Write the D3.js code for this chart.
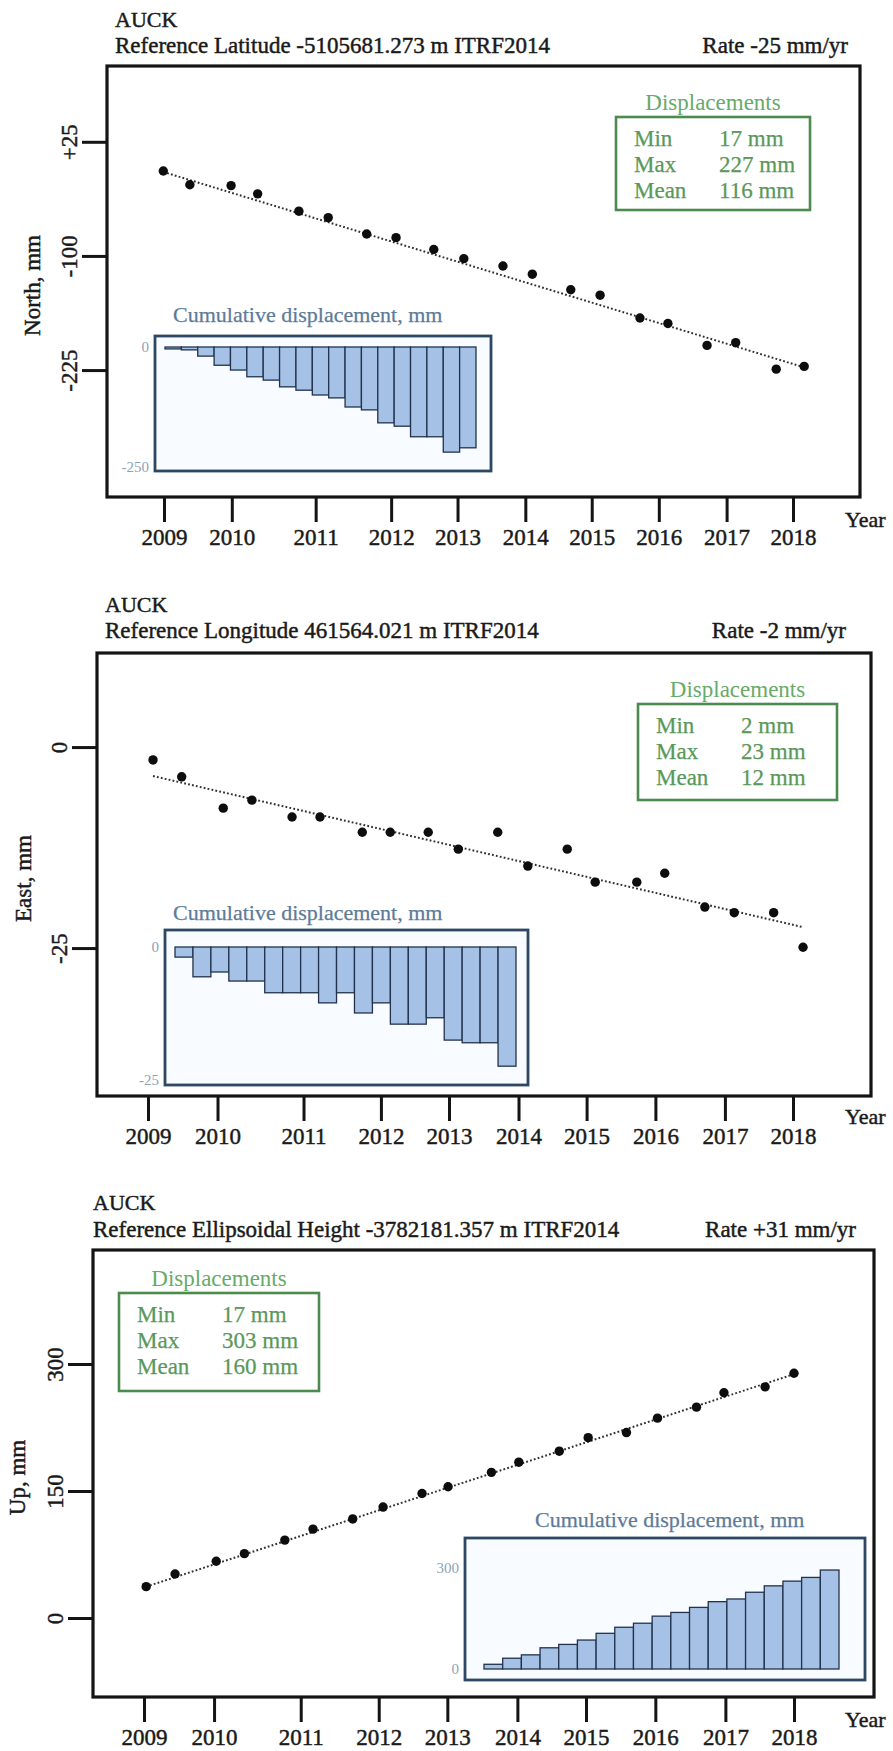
<!DOCTYPE html>
<html>
<head>
<meta charset="utf-8">
<script src="https://cdn.jsdelivr.net/npm/d3@7"></script>
<style>
  body { margin: 0; background: #fff; }
  svg { display: block; font-family: "Liberation Serif", "Times New Roman", serif; }
  .ink { fill: #1a1a1a; stroke: #1a1a1a; stroke-width: 0.45px; }
</style>
</head>
<body>
<div id="main"></div>
<script>
const ctx = {
    w: 893,
    h: 1751,
};

// shared x axis (decimal years where the year labels sit)
const tickEpochs = [2009, 2009.97, 2011.17, 2012.25, 2013.2, 2014.17, 2015.12, 2016.08, 2017.05, 2018];
const tickLabels = ["2009", "2010", "2011", "2012", "2013", "2014", "2015", "2016", "2017", "2018"];
const statLabels = ["Min", "Max", "Mean"];

// North
const northEpochs = [2008.99, 2009.37, 2009.96, 2010.34, 2010.93, 2011.35, 2011.90, 2012.32, 2012.86, 2013.29,
                     2013.85, 2014.27, 2014.82, 2015.24, 2015.81, 2016.21, 2016.77, 2017.18, 2017.76, 2018.16];
const northValues = [-7, -22, -23, -32, -51, -58, -76, -80, -93, -103, -111, -120, -137, -143, -168, -174, -198, -195, -224, -221];
const northTrend = [-8, -222];
const northTicks = [25, -100, -225];
const northTickLabels = ["+25", "-100", "-225"];
const northCumulative = [-4, -6, -19, -38, -48, -62, -69, -83, -90, -100, -106, -125, -131, -158, -165, -187, -187, -219, -210];
const northCumulTicks = [0, -250];
const northStats = [17, 227, 116];

// East
const eastEpochs = [2009.07, 2009.47, 2010.05, 2010.45, 2011.01, 2011.40, 2011.99, 2012.38, 2012.91, 2013.33,
                    2013.88, 2014.30, 2014.85, 2015.24, 2015.82, 2016.21, 2016.77, 2017.18, 2017.73, 2018.14];
const eastValues = [-1.6, -3.7, -7.6, -6.6, -8.7, -8.7, -10.6, -10.6, -10.6, -12.7, -10.6, -14.8, -12.7, -16.8, -16.8, -15.7, -19.9, -20.6, -20.6, -24.9];
const eastTrend = [-3.6, -22.4];
const eastTicks = [0, -25];
const eastTickLabels = ["0", "-25"];
const eastCumulative = [-1.9, -5.6, -4.7, -6.4, -6.4, -8.6, -8.6, -8.6, -10.5, -8.6, -12.4, -10.5, -14.5, -14.5, -13.3, -17.5, -18, -18, -22.4];
const eastCumulTicks = [0, -25];
const eastStats = [2, 23, 12];

// Up
const upEpochs = [2009.03, 2009.43, 2010.00, 2010.39, 2010.95, 2011.34, 2011.89, 2012.31, 2012.85, 2013.21,
                  2013.81, 2014.19, 2014.75, 2015.15, 2015.68, 2016.11, 2016.65, 2017.03, 2017.60, 2018.00];
const upValues = [37, 52, 67, 76, 92, 105, 117, 131, 147, 155, 172, 184, 197, 213, 219, 236, 249, 266, 273, 289];
const upTrend = [37, 288];
const upTicks = [300, 150, 0];
const upTickLabels = ["300", "150", "0"];
const upCumulative = [14, 32, 42, 63, 73, 86, 106, 124, 136, 157, 168, 183, 200, 208, 228, 247, 261, 272, 294];
const upCumulTicks = [300, 0];
const upStats = [17, 303, 160];

const panels = [
    {
        station: "AUCK", ref: "Reference Latitude -5105681.273 m ITRF2014", rate: "Rate -25 mm/yr", yTitle: "North, mm",
        epochs: northEpochs, values: northValues, trend: northTrend, ticks: northTicks, tickText: northTickLabels,
        cumul: northCumulative, cumulTicks: northCumulTicks, stats: northStats,
        box: {x0: 107, x1: 860, y0: 66, y1: 497}, yDomain: [-364, 108], xRange: [164, 793],
        head: {x: 115, y1: 27, y2: 53, rateX: 848}, yTitleX: 40, yearY: 527,
        legend: {x: 616, y: 117, w: 194, h: 93},
        inset: {x0: 155, x1: 491, y0: 336, y1: 471, bx0: 165, bx1: 476, yRange: [347, 467], tx: 173, ty: 322}
    },
    {
        station: "AUCK", ref: "Reference Longitude 461564.021 m ITRF2014", rate: "Rate -2 mm/yr", yTitle: "East, mm",
        epochs: eastEpochs, values: eastValues, trend: eastTrend, ticks: eastTicks, tickText: eastTickLabels,
        cumul: eastCumulative, cumulTicks: eastCumulTicks, stats: eastStats,
        box: {x0: 97, x1: 871, y0: 653, y1: 1096}, yDomain: [-43.4, 11.7], xRange: [148, 793],
        head: {x: 105, y1: 612, y2: 638, rateX: 846}, yTitleX: 31, yearY: 1124,
        legend: {x: 638, y: 704, w: 199, h: 96},
        inset: {x0: 165, x1: 528, y0: 930, y1: 1085, bx0: 175, bx1: 516, yRange: [947, 1080], tx: 173, ty: 920}
    },
    {
        station: "AUCK", ref: "Reference Ellipsoidal Height -3782181.357 m ITRF2014", rate: "Rate +31 mm/yr", yTitle: "Up, mm",
        epochs: upEpochs, values: upValues, trend: upTrend, ticks: upTicks, tickText: upTickLabels,
        cumul: upCumulative, cumulTicks: upCumulTicks, stats: upStats,
        box: {x0: 93, x1: 874, y0: 1250, y1: 1697}, yDomain: [-93.3, 434.6], xRange: [144, 794],
        head: {x: 93, y1: 1210, y2: 1237, rateX: 856}, yTitleX: 25, yearY: 1727,
        legend: {x: 119, y: 1293, w: 200, h: 98},
        inset: {x0: 465, x1: 865, y0: 1538, y1: 1680, bx0: 484, bx1: 839, yRange: [1669, 1568], tx: 535, ty: 1527}
    }
];

function drawPanel(svgEl, p) {
    const b = p.box;
    const x = d3.scaleLinear().domain([2009, 2018]).range(p.xRange);
    const y = d3.scaleLinear().domain(p.yDomain).range([b.y1, b.y0]);
    const g = svgEl.append("g");

    // header
    g.append("text").attr("class", "ink").attr("x", p.head.x).attr("y", p.head.y1)
     .style("font-size", "22px").text(p.station);
    g.append("text").attr("class", "ink").attr("x", p.head.x).attr("y", p.head.y2)
     .style("font-size", "23px").text(p.ref);
    g.append("text").attr("class", "ink").attr("x", p.head.rateX).attr("y", p.head.y2)
     .attr("text-anchor", "end")
     .style("font-size", "23px").text(p.rate);

    // plot frame
    g.append("rect")
     .attr("x", b.x0).attr("y", b.y0)
     .attr("width", b.x1 - b.x0).attr("height", b.y1 - b.y0)
     .attr("fill", "#fff").attr("stroke", "#141414").attr("stroke-width", 3.2);

    // x axis
    const xAxis = g.append("g")
     .attr("transform", `translate(0, ${b.y1})`)
     .call(d3.axisBottom(x).tickValues(tickEpochs)
             .tickFormat((d, i) => tickLabels[i])
             .tickSize(25).tickPadding(7));
    xAxis.select(".domain").remove();
    xAxis.selectAll(".tick line").attr("stroke", "#141414").attr("stroke-width", 3);
    xAxis.selectAll(".tick text")
     .attr("class", "ink")
     .style("font-family", "Liberation Serif")
     .style("font-size", "23px");

    g.append("text").attr("class", "ink").attr("x", 845).attr("y", p.yearY)
     .style("font-size", "22px").text("Year");

    // y axis
    const tickLen = 25;
    const yAxis = g.append("g")
     .attr("transform", `translate(${b.x0}, 0)`)
     .call(d3.axisLeft(y).tickValues(p.ticks)
             .tickFormat((d, i) => p.tickText[i])
             .tickSize(tickLen));
    yAxis.select(".domain").remove();
    yAxis.selectAll(".tick line").attr("stroke", "#141414").attr("stroke-width", 3);
    yAxis.selectAll(".tick text")
     .attr("x", null).attr("dy", null)
     .attr("class", "ink")
     .attr("text-anchor", "middle")
     .attr("transform", `translate(${-(tickLen + 5)}, 0) rotate(-90)`)
     .style("font-family", "Liberation Serif")
     .style("font-size", "23px");

    g.append("text")
     .attr("class", "ink")
     .attr("transform", `translate(${p.yTitleX}, ${(b.y0 + b.y1) / 2 + 4}) rotate(-90)`)
     .attr("text-anchor", "middle")
     .style("font-size", "23px")
     .text(p.yTitle);

    // trend line and observations
    const pts = p.epochs.map((t, i) => ({t: t, v: p.values[i]}));
    const trend = [{t: p.epochs[0], v: p.trend[0]}, {t: p.epochs[p.epochs.length - 1], v: p.trend[1]}];
    g.append("path")
     .datum(trend)
     .attr("d", d3.line().x(d => x(d.t)).y(d => y(d.v)))
     .attr("fill", "none")
     .attr("stroke", "#303030")
     .attr("stroke-width", 2)
     .attr("stroke-dasharray", "1.8 2.2");

    g.selectAll(".obs")
     .data(pts)
     .enter().append("circle")
     .attr("class", "obs")
     .attr("cx", d => x(d.t))
     .attr("cy", d => y(d.v))
     .attr("r", 4.7)
     .attr("fill", "#0d0d0d");

    drawLegend(g, p);
    drawInset(g, p);
}

function drawLegend(g, p) {
    const L = p.legend;
    g.append("text")
     .attr("x", L.x + L.w / 2).attr("y", L.y - 7)
     .attr("text-anchor", "middle")
     .style("font-size", "23px").style("fill", "#68aa68")
     .text("Displacements");
    g.append("rect")
     .attr("x", L.x).attr("y", L.y).attr("width", L.w).attr("height", L.h)
     .attr("fill", "none").attr("stroke", "#4d8a4d").attr("stroke-width", 2.6);

    statLabels.forEach((s, i) => {
        g.append("text")
         .attr("x", L.x + 18).attr("y", L.y + 29 + i * 26)
         .style("font-size", "23px").style("fill", "#5a985a")
         .style("stroke", "#5a985a").style("stroke-width", "0.25px")
         .text(s);
        g.append("text")
         .attr("x", L.x + 103).attr("y", L.y + 29 + i * 26)
         .style("font-size", "23px").style("fill", "#5a985a")
         .style("stroke", "#5a985a").style("stroke-width", "0.25px")
         .text(p.stats[i] + " mm");
    });
}

function drawInset(g, p) {
    const I = p.inset;
    g.append("rect")
     .attr("x", I.x0).attr("y", I.y0)
     .attr("width", I.x1 - I.x0).attr("height", I.y1 - I.y0)
     .attr("fill", "#f8fbff").attr("stroke", "#2d4864").attr("stroke-width", 2.8);

    g.append("text")
     .attr("x", I.tx).attr("y", I.ty)
     .style("font-size", "22px").style("fill", "#5d7b98")
     .style("stroke", "#5d7b98").style("stroke-width", "0.25px")
     .text("Cumulative displacement, mm");

    const xb = d3.scaleBand()
     .domain(d3.range(p.cumul.length))
     .range([I.bx0, I.bx1])
     .padding(0);
    const yb = d3.scaleLinear()
     .domain(d3.extent([0].concat(p.cumulTicks)).sort((a, c) => Math.abs(a) - Math.abs(c)))
     .range(I.yRange);

    g.selectAll(null)
     .data(p.cumul)
     .enter().append("rect")
     .attr("x", (d, i) => xb(i))
     .attr("y", d => Math.min(yb(0), yb(d)))
     .attr("width", xb.bandwidth())
     .attr("height", d => Math.abs(yb(d) - yb(0)))
     .attr("fill", "#a5c2e6")
     .attr("stroke", "#22324c")
     .attr("stroke-width", 1.3);

    g.selectAll(null)
     .data(p.cumulTicks)
     .enter().append("text")
     .attr("x", I.x0 - 6)
     .attr("y", d => yb(d))
     .attr("dy", "0.35em")
     .attr("text-anchor", "end")
     .style("font-size", "15px").style("fill", "#8da2b8")
     .text(d => d);
}

function createViz() {
    const svgEl = d3.select("#main").append("svg")
      .attr("width", ctx.w)
      .attr("height", ctx.h);
    svgEl.append("rect").attr("width", ctx.w).attr("height", ctx.h).attr("fill", "#fff");
    panels.forEach(p => drawPanel(svgEl, p));
}

createViz();
</script>
</body>
</html>
